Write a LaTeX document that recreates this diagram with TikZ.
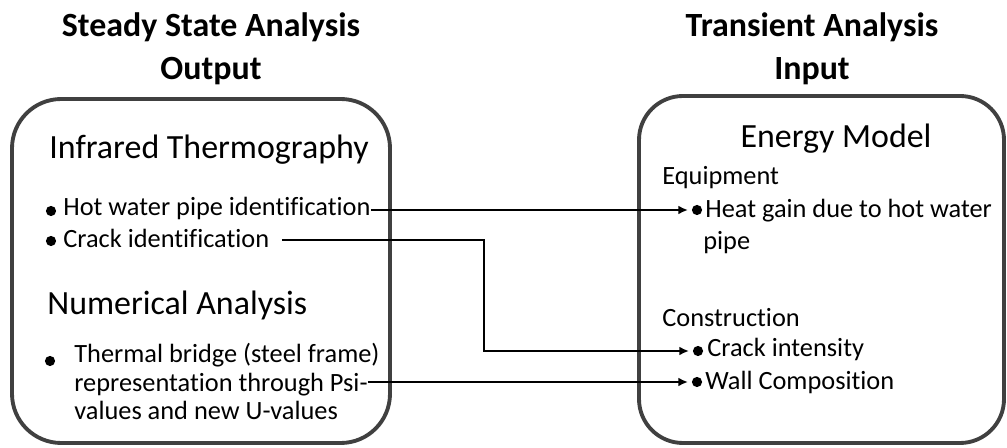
\documentclass[tikz,border=0pt]{standalone}
\usepackage{fontspec}
\setmainfont[Ligatures=NoCommon]{Carlito}
\usetikzlibrary{arrows.meta,positioning}

\definecolor{edge}{HTML}{404040}

\tikzset{
  panel/.style={draw=edge,line width=2.2pt},
  title/.style={font=\fontsize{19.3}{23}\selectfont\bfseries,anchor=base,inner sep=0pt},
  head/.style={font=\fontsize{19.3}{23}\selectfont,anchor=base west,inner sep=0pt},
  item/.style={font=\fontsize{15}{18}\selectfont,anchor=base west,inner sep=0pt},
  dot/.style={circle,fill=black,inner sep=0pt,minimum size=5.8pt},
  link/.style={line width=1.2pt,-{Latex[length=5.5pt,width=5pt]},shorten >=2pt}
}

\begin{document}
\begin{tikzpicture}[x=0.02cm,y=-0.02cm]
\useasboundingbox (0,0) rectangle (1007,448);

\node[title] (ssa1) at (211,37) {Steady State Analysis};
\node[title] (ssa2) at (211,80) {Output};
\node[title] (tra1) at (812,37) {Transient Analysis};
\node[title] (tra2) at (812,80) {Input};

\draw[panel,rounded corners=28pt] (12,99) rectangle (390,443);
\draw[panel,rounded corners=25pt] (639,96) rectangle (1004,443);

% left side
\node[head] (irt) at (49,159) {Infrared Thermography};
\node[dot] (d1) at (51,211) {};
\node[item] (hwp) at (63,216) {Hot water pipe identification};
\node[dot] (d2) at (51,241) {};
\node[item] (cid) at (63,248) {Crack identification};
\node[head] (num) at (47,315) {Numerical Analysis};
\node[dot] (d3) at (50,361) {};
\node[item] (tb1) at (74,363) {Thermal bridge (steel frame)};
\node[item] (tb2) at (74,392) {representation through Psi-};
\node[item] (tb3) at (74,420) {values and new U-values};

% right side
\node[head,anchor=base] (em) at (836,148) {Energy Model};
\node[item] (eqp) at (662,185) {Equipment};
\node[dot] (e1) at (697,210) {};
\node[item] (hg1) at (705,218) {Heat gain due to hot water};
\node[item] (hg2) at (703,250) {pipe};
\node[item] (con) at (662,327) {Construction};
\node[dot] (e2) at (698,351) {};
\node[item] (ci) at (707,357) {Crack intensity};
\node[dot] (e3) at (697,382) {};
\node[item] (wc) at (705,390) {Wall Composition};

% connectors
\coordinate (c0) at ([xshift=7pt]cid.east);
\coordinate (bend) at (484,240);
\draw[link] (hwp.east |- e1) -- (e1);
\draw[link] (c0 |- bend) -- (bend) |- (e2);
\draw[link] (tb2.east |- e3) -- (e3);

\end{tikzpicture}
\end{document}
